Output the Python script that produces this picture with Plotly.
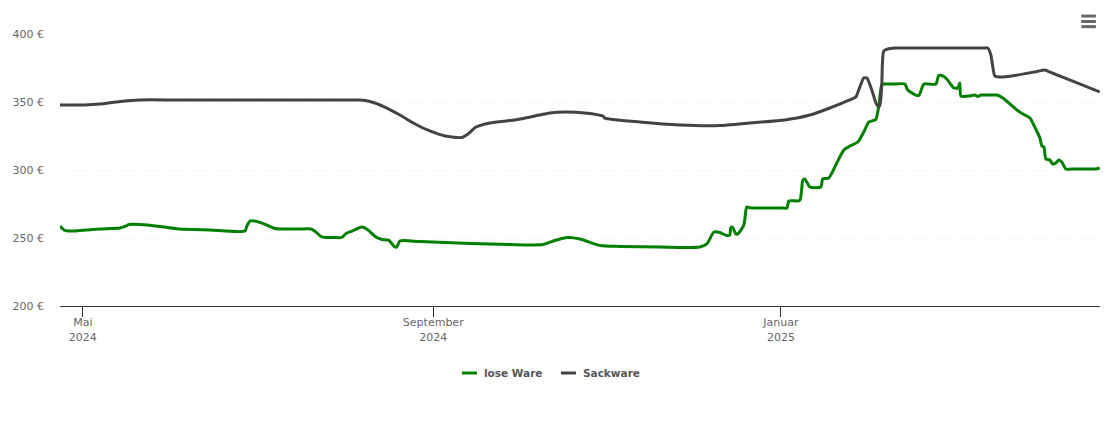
import pandas as pd
import plotly.graph_objects as go

# Days counted from the left edge of the chart (23 Apr 2024), prices in euro.
start = pd.Timestamp("2024-04-23")
end = pd.Timestamp("2025-04-23")

lose_days = [0, 1.4, 2.8, 7, 14, 21, 22.8, 24.2, 28, 35.1, 42.1, 52.6, 64.9, 65.6, 66.7, 68.4, 70.9, 75.4,
             80.7, 84, 88.1, 89.8, 91.6, 93.3, 96, 98.9, 100.4, 102.5, 106, 108.1, 110.9, 113, 115.4, 117.5, 118.2,
             119.3, 126.3, 143.9, 157.9, 169.5, 173.7, 178.2, 182.5, 189.5, 196.5, 210.5, 224.6, 227, 229.5,
             231.6, 234, 235.1, 235.4, 236.1, 237.2, 238.2, 240, 241, 241.8, 242.8, 246, 250, 253, 255.1, 255.8, 259.6,
             260.7, 261.4, 263.2, 267, 267.7, 269.8, 272.6, 275.1, 277.2, 280, 282.1, 283.9, 286.3, 287.4,
             288.4, 289.1, 292, 296.5, 297.5, 300.4, 301.4, 303.2, 305, 307.4, 308.4, 309.5, 311.2, 313.7, 315.1,
             315.8, 316.2, 319.3, 321.1, 322.1, 323.2, 325.5, 328.8, 330.9, 336.8, 340.4, 342.1, 343.9, 344.6,
             345.3, 346, 347.4, 348.4, 349.5, 350.5, 351.6, 353, 355, 358, 361, 363.5, 364.9]
lose_ware = [258.8, 255.9, 255.1, 255.5, 256.6, 257.4, 258.5, 259.9, 259.9, 258.5, 256.6, 255.9, 255.1, 258.8,
             262.5, 262.5, 261, 257, 256.6, 256.6, 256.6, 254.4, 251.1, 250.4, 250.4, 250.4, 253.3, 255.1, 258.1, 255.9,
             250.7, 248.9, 248.2, 243.4, 243.4, 247.8, 247.4, 246, 245.2, 245.2, 248.2, 250.4, 249.3, 244.5,
             243.8, 243.4, 243.4, 245.6, 254.4, 254, 251.8, 252.2, 257.7, 257.7, 252.9, 253.7, 259.6, 272.8,
             272.4, 272.1, 272.1, 272.1, 272.1, 272.1, 277.2, 277.6, 292.6, 293.4, 287.5, 287.5, 293.4, 294.1, 305.1, 314.7, 317.6,
             320.6, 327.9, 335.3, 337.1, 347.8, 362.5, 363.2, 363.2, 363.2, 358.8, 355.1, 354.8, 363.2, 363.2, 363.2, 369.5,
             369.5, 366.9, 360.3, 360.3, 364, 354.4, 354.4, 355.1, 354, 355.1, 355.1, 355.1, 352.9, 342.6, 338.2,
             331.6, 323.5, 317.6, 316.9, 308.1, 307.4, 304.4, 305.1, 307.4, 305.9, 300.7, 300.7, 300.7, 300.7, 300.7, 301.5]

sack_days = [0, 4, 8.8, 14, 21.1, 28.1, 40, 60, 80, 95, 101, 105.3, 108.8, 114, 119.3, 124.6, 129.8, 135.1, 141, 143.2, 146, 150.9,
             159.6, 166.7, 171.9, 177.2, 184.2, 190.5, 191.2, 203.5, 217.5, 231.6, 242.1, 254.4, 263.2, 270.2,
             277.2, 279.3, 280.7, 282.1, 283.2, 284.9, 286.7, 287.7, 288.4, 289.1, 290.5, 293, 300, 310, 320, 324, 325.6, 326.7,
             328.1, 329.8, 335.1, 343, 345.6, 348, 355, 364.9]
sackware = [347.8, 347.8, 347.8, 348.5, 350.4, 351.5, 351.5, 351.5, 351.5, 351.5, 351.5, 351.5, 350.4, 346.3, 340.4, 333.8, 328.7, 325, 323.9, 326.5,
            331.6, 334.6, 336.8, 339.7, 341.9, 342.6, 341.9, 339.7, 338.2, 335.3, 333.1, 332.7, 334.6, 336.8,
            340.4, 345.6, 351.5, 353.7, 361, 367.6, 367.6, 358.8, 347.8, 347, 362.5, 387.5, 389, 389.7, 389.7, 389.7, 389.7, 389.7, 389.7,
            384.6, 369.1, 368.4, 369.5, 372.5, 373.5, 371.5, 365.7, 357.4]

tick_dates = ["2024-05-01", "2024-09-01", "2025-01-01"]
tick_labels = ["Mai<br>2024", "September<br>2024", "Januar<br>2025"]
y_ticks = [200, 250, 300, 350, 400]
y_labels = ["200 €", "250 €", "300 €", "350 €", "400 €"]

series_colors = {"lose Ware": "#007f00", "Sackware": "#434343"}


def to_dates(days):
    return start + pd.to_timedelta(days, unit="D")


fig = go.Figure()
fig.add_trace(go.Scatter(x=to_dates(lose_days), y=lose_ware, name="lose Ware", mode="lines",
                         line=dict(color=series_colors["lose Ware"], width=3, shape="spline", smoothing=0.6)))
fig.add_trace(go.Scatter(x=to_dates(sack_days), y=sackware, name="Sackware", mode="lines",
                         line=dict(color=series_colors["Sackware"], width=3, shape="spline", smoothing=0.6)))

fig.update_xaxes(range=[start, end], tickvals=tick_dates, ticktext=tick_labels, ticks="outside", ticklen=10,
                 tickcolor="#333333", showgrid=False, showline=True, linecolor="#333333", linewidth=1,
                 zeroline=False, tickfont=dict(color="#666666"), ticklabelstandoff=-4)
fig.update_yaxes(range=[200, 400], tickvals=y_ticks, ticktext=y_labels, gridcolor="#e6e6e6", griddash="1px,2px",
                 gridwidth=1, zeroline=False, showline=False, ticks="", ticklabelstandoff=15,
                 tickfont=dict(color="#666666"))

# Export menu icon in the top right corner.
for y in [1.066, 1.046, 1.027]:
    fig.add_shape(type="line", xref="paper", yref="paper", x0=0.982, x1=0.996, y0=y, y1=y,
                  line=dict(color="#666666", width=3))

# Legend drawn by hand, the built-in one cannot make its keys this short.
legend_y = -0.2463
for (name, color), x0, x1, tx in zip(series_colors.items(), [0.3865, 0.4817], [0.401, 0.4962], [0.4067, 0.5019]):
    fig.add_shape(type="line", xref="paper", yref="paper", x0=x0, x1=x1, y0=legend_y, y1=legend_y,
                  line=dict(color=color, width=3))
    fig.add_annotation(text=f"<b>{name}</b>", xref="paper", yref="paper", x=tx, y=legend_y, xanchor="left",
                       yanchor="middle", showarrow=False, xshift=-1,
                       font=dict(size=10.5, color="#555555"))

fig.update_layout(
    width=1110, height=423, margin=dict(l=60, r=10, t=34, b=117),
    paper_bgcolor="white", plot_bgcolor="white",
    font=dict(family="DejaVu Sans", size=11, color="#666666"),
    hovermode="x", showlegend=False,
)

fig.write_html("out.html", config=dict(displayModeBar=False),
               post_script="document.body.style.margin='0';")
